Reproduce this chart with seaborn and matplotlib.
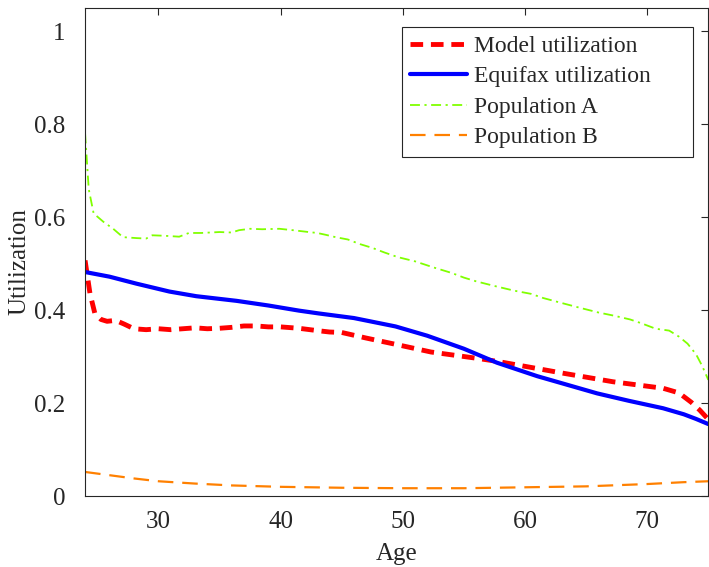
import numpy as np
import pandas as pd
import matplotlib
matplotlib.use("Agg")
import matplotlib.pyplot as plt
import seaborn as sns

# ---- data ----
age_model = [24.0, 24.4, 24.8, 25.3, 25.8, 26.5, 27.2, 28.0, 29.0, 30.0, 31.0, 32.0, 33.0, 34.0, 35.0,
             36.0, 37.0, 38.0, 39.0, 40.0, 41.5, 43.0, 44.0, 45.0, 47.0, 49.5, 52.3, 55.9, 57.7,
             59.4, 63.2, 67.2, 71.3, 72.6, 73.6, 74.3, 75.0]
model_util = [0.507, 0.436, 0.393, 0.380, 0.376, 0.378, 0.370, 0.360, 0.358, 0.360, 0.358, 0.360, 0.362, 0.360, 0.361,
              0.363, 0.366, 0.366, 0.364, 0.364, 0.361, 0.356, 0.353, 0.352, 0.340, 0.326, 0.310, 0.297, 0.290,
              0.282, 0.264, 0.246, 0.232, 0.222, 0.202, 0.185, 0.165]

age_equifax = [24.0, 26.0, 28.2, 30.9, 33.1, 36.4, 39.0, 41.5, 43.1, 46.0, 49.4, 52.0, 55.0, 57.7,
               61.0, 65.9, 68.5, 71.3, 73.0, 74.0, 75.0]
equifax_util = [0.482, 0.472, 0.457, 0.440, 0.430, 0.420, 0.410, 0.399, 0.393, 0.383, 0.365, 0.345, 0.317, 0.287,
                0.258, 0.221, 0.205, 0.189, 0.176, 0.166, 0.155]

age_pop_a = [24.0, 24.3, 24.7, 25.5, 26.3, 27.1, 28.2, 29.0, 29.5, 30.5, 31.7, 32.5, 33.5, 35.0, 36.0, 36.6,
             37.5, 38.5, 39.9, 41.0, 42.3, 43.0, 43.7, 44.5, 45.5, 46.5, 47.5, 48.5, 49.6, 51.0, 52.5, 54.0, 55.0,
             56.0, 57.5, 59.1, 60.5, 61.5, 63.2, 64.5, 66.0, 67.3, 68.6, 69.5, 70.7, 71.8, 72.6, 73.3, 74.0, 74.5, 75.0]
pop_a = [0.780, 0.660, 0.608, 0.590, 0.575, 0.557, 0.555, 0.554, 0.561, 0.560, 0.558, 0.566, 0.566, 0.568, 0.567, 0.572,
         0.575, 0.574, 0.575, 0.572, 0.568, 0.566, 0.562, 0.557, 0.552, 0.542, 0.534, 0.524, 0.514, 0.505, 0.492, 0.480, 0.470,
         0.462, 0.452, 0.442, 0.435, 0.426, 0.414, 0.405, 0.395, 0.388, 0.380, 0.372, 0.360, 0.356, 0.343, 0.328, 0.305, 0.280, 0.250]

age_pop_b = [24.0, 26.0, 28.0, 30.0, 33.0, 36.0, 40.0, 45.0, 50.0, 55.0, 60.0, 65.0, 70.0, 73.0, 75.0]
pop_b = [0.052, 0.045, 0.038, 0.032, 0.027, 0.023, 0.020, 0.018, 0.017, 0.017, 0.019, 0.021, 0.026, 0.030, 0.032]

labels = ["Model utilization", "Equifax utilization", "Population A", "Population B"]
x_ticks = [30, 40, 50, 60, 70]
y_ticks = [0, 0.2, 0.4, 0.6, 0.8, 1]
y_tick_labels = ["0", "0.2", "0.4", "0.6", "0.8", "1"]

frames = [
    pd.DataFrame({"Age": age_model, "Utilization": model_util, "series": labels[0]}),
    pd.DataFrame({"Age": age_equifax, "Utilization": equifax_util, "series": labels[1]}),
    pd.DataFrame({"Age": age_pop_a, "Utilization": pop_a, "series": labels[2]}),
    pd.DataFrame({"Age": age_pop_b, "Utilization": pop_b, "series": labels[3]}),
]

sns.set_theme(style="white")
plt.rcParams["font.family"] = ["Liberation Serif", "DejaVu Serif"]
plt.rcParams["mathtext.fontset"] = "stix"

fig = plt.figure(figsize=(7.09, 5.67), dpi=100)
ax = fig.add_axes([0.12, 0.125, 0.879, 0.861])

styles = [
    dict(color="#FF0000", lw=3.5, dashes=(2.6, 1.6)),
    dict(color="#0000FF", lw=3.0, dashes=None),
    dict(color="#80FF00", lw=1.3, dashes=(5.5, 2.5, 1.2, 2.5)),
    dict(color="#FF8000", lw=1.6, dashes=(7, 4)),
]
for df, st in zip(frames, styles):
    line_kws = dict(color=st["color"], linewidth=st["lw"], label=df["series"].iloc[0])
    sns.lineplot(data=df, x="Age", y="Utilization", ax=ax, estimator=None, sort=False, **line_kws)
    ln = ax.lines[-1]
    if st["dashes"] is not None:
        ln.set_dashes(st["dashes"])

ax.set_xlim(24, 75)
ax.set_ylim(0, 1.05)
ax.set_xticks(x_ticks)
ax.set_xticklabels([str(t) for t in x_ticks])
ax.set_yticks(y_ticks)
ax.set_yticklabels(y_tick_labels)
ax.tick_params(direction="in", length=5, width=0.8, colors="#262626", labelsize=18,
               top=True, right=True, labelcolor="#262626")
ax.tick_params(axis="y", pad=14)
ax.tick_params(axis="x", pad=11)
for s in ax.spines.values():
    s.set_color("#262626")
    s.set_linewidth(0.8)
ax.set_xlabel("Age", fontsize=18, color="#262626", labelpad=7)
ax.set_ylabel("Utilization", fontsize=18, color="#262626")
ax.yaxis.set_label_coords(-0.088, 0.48)

leg = ax.legend(loc="upper right", bbox_to_anchor=(0.508, 0.70, 0.4676, 0.261), mode="expand",
                fontsize=17, frameon=True,
                fancybox=False, framealpha=1, edgecolor="#262626", handlelength=2.4,
                handletextpad=0.3, labelspacing=0.38, borderpad=0.35, borderaxespad=0.0)
leg.get_frame().set_linewidth(0.8)

fig.savefig("out.png", dpi=100)
